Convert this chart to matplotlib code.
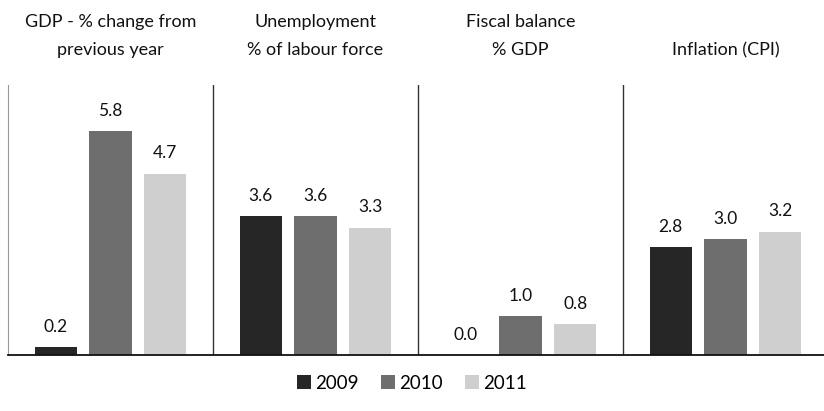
import numpy as np
import matplotlib.pyplot as plt

plt.rcParams['font.family'] = ['Lato', 'DejaVu Sans']

groups = ['GDP - % change from\nprevious year', 'Unemployment\n% of labour force',
          'Fiscal balance\n% GDP', 'Inflation (CPI)']
years = ['2009', '2010', '2011']
v2009 = [0.2, 3.6, 0.0, 2.8]
v2010 = [5.8, 3.6, 1.0, 3.0]
v2011 = [4.7, 3.3, 0.8, 3.2]
colors = ['#262626', '#6e6e6e', '#cfcfcf']

fig = plt.figure(figsize=(8.24, 4.11), dpi=100)
ax = fig.add_axes([8 / 824, 56 / 411, 820 / 824, 270 / 411])

x = np.arange(len(groups))
step = 0.268
width = 0.205
series = [v2009, v2010, v2011]
for i, vals in enumerate(series):
    bars = ax.bar(x + (i - 1) * step, vals, width, color=colors[i], label=years[i])
    for b, v in zip(bars, vals):
        ax.annotate('%.1f' % v, (b.get_x() + b.get_width() / 2, v),
                    xytext=(0, 9), textcoords='offset points',
                    ha='center', va='bottom', fontsize=12.5, color='#111111')

ax.set_xlim(-0.5, 3.5)
ax.set_ylim(0, 7.0)
for sep in [0.5, 1.5, 2.5]:
    ax.axvline(sep, color='#333333', lw=1.0)

ax.spines['top'].set_visible(False)
ax.spines['right'].set_visible(False)
ax.spines['left'].set_color('#999999')
ax.spines['left'].set_linewidth(0.8)
ax.spines['bottom'].set_color('#111111')
ax.spines['bottom'].set_linewidth(1.3)
ax.set_xticks([])
ax.set_yticks([])

# titles: last line sits on the same row for every group
line_y = [1.13, 1.233]
for xi, g in zip(x, groups):
    lines = g.split('\n')[::-1]
    for k, line in enumerate(lines):
        ax.text(xi, line_y[k], line, transform=ax.get_xaxis_transform(),
                ha='center', va='center', fontsize=13, color='#111111')

fig.legend(loc='center', bbox_to_anchor=(0.5, 1 - 383 / 411), ncol=3,
           frameon=False, fontsize=13.5, handlelength=0.75, handleheight=0.75,
           handletextpad=0.2, columnspacing=1.2)

fig.savefig('out.png', dpi=100)
